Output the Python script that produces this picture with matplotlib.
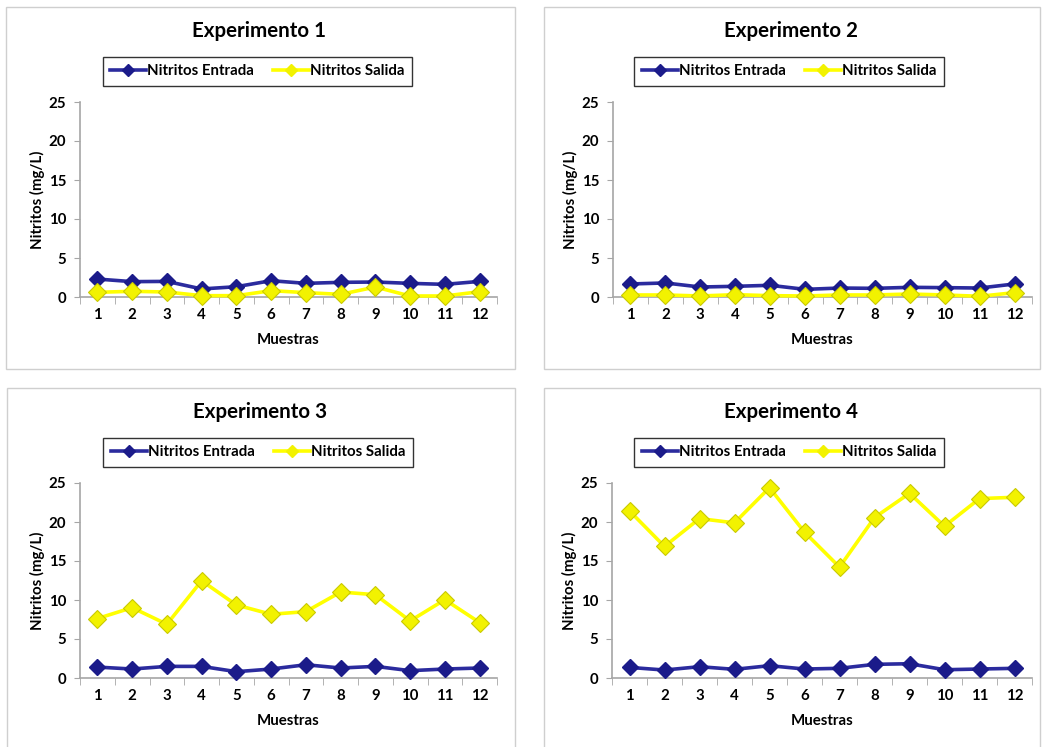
import matplotlib
matplotlib.use('Agg')
import matplotlib.pyplot as plt
from matplotlib.patches import Rectangle
from matplotlib.lines import Line2D

plt.rcParams['font.family'] = ['Lato', 'DejaVu Sans']
plt.rcParams['font.weight'] = 'bold'

W, H = 1046, 747

muestras = list(range(1, 13))

titulos = ['Experimento 1', 'Experimento 2', 'Experimento 3', 'Experimento 4']

entrada_1 = [2.3, 1.97, 2.0, 1.03, 1.32, 2.09, 1.75, 1.88, 1.92, 1.75, 1.62, 2.0]
salida_1 = [0.6, 0.73, 0.64, 0.17, 0.17, 0.81, 0.56, 0.34, 1.28, 0.13, 0.13, 0.68]

entrada_2 = [1.67, 1.8, 1.28, 1.37, 1.5, 0.98, 1.15, 1.11, 1.24, 1.2, 1.15, 1.67]
salida_2 = [0.26, 0.26, 0.13, 0.3, 0.17, 0.13, 0.26, 0.26, 0.38, 0.26, 0.09, 0.56]

entrada_3 = [1.4, 1.15, 1.49, 1.49, 0.81, 1.15, 1.7, 1.28, 1.49, 0.94, 1.15, 1.28]
salida_3 = [7.62, 9.02, 6.89, 12.47, 9.36, 8.17, 8.51, 11.02, 10.68, 7.32, 10.04, 7.11]

entrada_4 = [1.36, 1.02, 1.45, 1.11, 1.58, 1.15, 1.24, 1.75, 1.83, 1.06, 1.15, 1.24]
salida_4 = [21.42, 16.87, 20.44, 19.89, 24.4, 18.7, 14.22, 20.57, 23.68, 19.46, 23.0, 23.17]

entradas = [entrada_1, entrada_2, entrada_3, entrada_4]
salidas = [salida_1, salida_2, salida_3, salida_4]

AZUL = '#2b2b9e'
AZUL_M = '#1b1b8a'
AMARILLO = '#ffff00'
AMARILLO_M = '#f2f200'
GRIS = '#a6a6a6'

fig = plt.figure(figsize=(W / 100, H / 100), dpi=100)


def fx(x):
    return x / W


def fy(y):
    return 1 - y / H


# chart frames (pixel boxes: left, top, right, bottom)
marcos = [(6, 7, 515, 369), (544, 7, 1040, 369), (7, 388, 515, 760), (544, 388, 1040, 760)]
# plot areas
areas = [(80, 102, 497, 297), (613, 102, 1032, 297), (80, 483, 497, 678), (612, 483, 1032, 678)]

for i in range(4):
    l, t, r, b = marcos[i]
    fig.patches.append(Rectangle((fx(l), fy(b)), fx(r - l), (b - t) / H,
                                 transform=fig.transFigure, fill=False,
                                 edgecolor='#cfcfcf', linewidth=1))
    cx = (l + r) / 2

    al, at, ar, ab = areas[i]
    ax = fig.add_axes([fx(al), fy(ab), fx(ar - al), (ab - at) / H])
    ax.plot(muestras, entradas[i], color=AZUL, linewidth=2.6, marker='D',
            markersize=8, markerfacecolor=AZUL_M, markeredgecolor=AZUL_M,
            clip_on=False, zorder=3)
    ax.plot(muestras, salidas[i], color=AMARILLO, linewidth=2.6, marker='D',
            markersize=9, markerfacecolor=AMARILLO_M, markeredgecolor='#c9c900',
            markeredgewidth=0.8, clip_on=False, zorder=4)

    ax.set_xlim(0.5, 12.5)
    ax.set_ylim(0, 25)
    ax.set_yticks([0, 5, 10, 15, 20, 25])
    ax.set_xticks(muestras)
    ax.set_xticks([x + 0.5 for x in range(0, 13)], minor=True)
    ax.tick_params(axis='x', which='major', length=0, pad=8, labelsize=10.8)
    ax.tick_params(axis='x', which='minor', length=5, color=GRIS, direction='out')
    ax.tick_params(axis='y', length=4, color=GRIS, labelsize=10.8, pad=6)
    for s in ['top', 'right']:
        ax.spines[s].set_visible(False)
    for s in ['left', 'bottom']:
        ax.spines[s].set_color(GRIS)
        ax.spines[s].set_linewidth(1.2)
    ax.patch.set_alpha(0)

    fig.text(fx(cx - 1), fy(t + 24), titulos[i], ha='center', va='center',
             fontsize=14.8, fontweight='bold')
    fig.text(fx((al + ar) / 2), fy(ab + 43), 'Muestras', ha='center', va='center',
             fontsize=10.8, fontweight='bold')
    fig.text(fx(al - 43), fy((at + ab) / 2), 'Nitritos (mg/L)', ha='center',
             va='center', rotation=90, fontsize=10.8, fontweight='bold')

    handles = [
        Line2D([], [], color=AZUL, linewidth=2.6, marker='D', markersize=6,
               markerfacecolor=AZUL_M, markeredgecolor=AZUL_M),
        Line2D([], [], color=AMARILLO, linewidth=2.6, marker='D', markersize=6,
               markerfacecolor=AMARILLO_M, markeredgecolor=AMARILLO_M),
    ]
    leg = fig.legend(handles, ['Nitritos Entrada', 'Nitritos Salida'], ncol=2,
                     loc='center', bbox_to_anchor=(fx(cx - 3), fy(t + 64)),
                     frameon=True, fancybox=False,
                     prop={'size': 10.8, 'weight': 'bold'},
                     handlelength=2.4, handletextpad=0.05, columnspacing=1.3,
                     borderpad=0.5, borderaxespad=0)
    leg.get_frame().set_edgecolor('black')
    leg.get_frame().set_linewidth(1)

fig.savefig('out.png', dpi=100)
